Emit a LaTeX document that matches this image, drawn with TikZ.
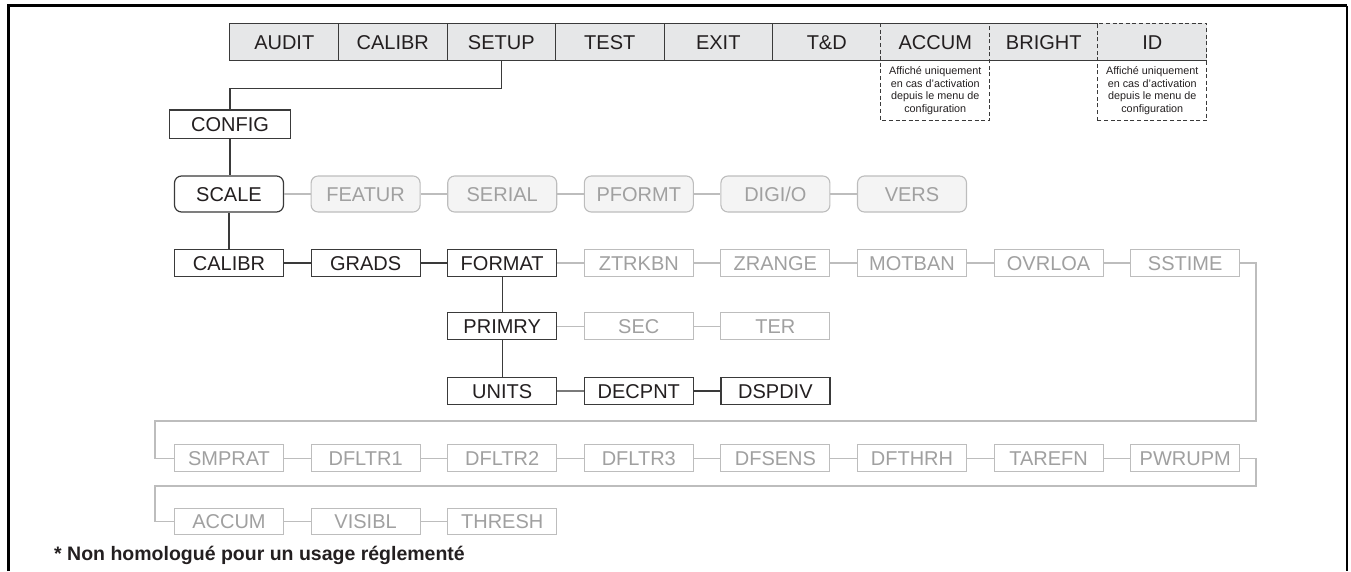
\documentclass[tikz,border=0pt]{standalone}
\usepackage{fontspec}
\setmainfont{Liberation Sans}
\definecolor{barfill}{HTML}{E6E7E8}
\definecolor{dk}{HTML}{3A3A3A}
\definecolor{txt}{HTML}{231F20}
\definecolor{lt}{HTML}{BDBDBD}
\definecolor{ltxt}{HTML}{A0A0A0}
\definecolor{ltfill}{HTML}{F4F4F4}
\definecolor{mid}{HTML}{7A7A7A}
\tikzset{
  lab/.style={font=\fontsize{20}{24}\selectfont, inner sep=0pt, minimum width=109pt,
    minimum height=27pt, text height=14.4pt, text depth=0pt},
  on/.style={lab, draw=dk, line width=1.2pt, text=txt, fill=white},
  off/.style={lab, draw=lt, line width=1.1pt, text=ltxt, fill=white},
  onr/.style={on, rounded corners=7pt, minimum height=36pt},
  offr/.style={off, rounded corners=7pt, minimum height=36pt, fill=ltfill},
  topbox/.style={font=\fontsize{20}{24}\selectfont, inner sep=0pt, minimum width=108.5pt,
    minimum height=37.4pt, text height=14.4pt, text depth=0pt, fill=barfill, text=txt},
  notebox/.style={font=\fontsize{10.8}{12.6}\selectfont, align=center, inner sep=0pt,
    minimum width=108.5pt, minimum height=59.3pt, text=txt, anchor=north},
  dkc/.style={draw=dk, line width=1.3pt},
  ltc/.style={draw=lt, line width=1.2pt},
  midc/.style={draw=mid, line width=1.2pt},
  dsh/.style={draw=dk, line width=1.1pt, dash pattern=on 4pt off 2.6pt},
}
\begin{document}
\begin{tikzpicture}[x=1pt,y=-1pt]
\useasboundingbox (0,0) rectangle (1351,571);
% frame
\draw[line width=3pt, black] (8.5,571) -- (8.5,5.5) -- (1347,5.5);
\draw[line width=1.3pt, black] (1347,5.5) -- (1347,571);

% top menu bar
\node[topbox] (AUDIT)   at (284.25,42) {AUDIT};
\node[topbox] (CALIBRm) at (392.75,42) {CALIBR};
\node[topbox] (SETUP)   at (501.25,42) {SETUP};
\node[topbox] (TEST)    at (609.75,42) {TEST};
\node[topbox] (EXIT)    at (718.25,42) {EXIT};
\node[topbox] (TD)      at (826.75,42) {T\&D};
\node[topbox] (ACCUMm)  at (935.25,42) {ACCUM};
\node[topbox] (BRIGHT)  at (1043.75,42) {BRIGHT};
\node[topbox] (IDm)     at (1152.25,42) {ID};
\node[notebox] (accnote) at (ACCUMm.south) {Affiché uniquement\\en cas d’activation\\depuis le menu de\\configuration};
\node[notebox] (idnote) at (IDm.south) {Affiché uniquement\\en cas d’activation\\depuis le menu de\\configuration};
\draw[dkc, line width=1.1pt] (AUDIT.south west) -- (AUDIT.north west) -- (BRIGHT.north east);
\draw[dkc, line width=1.1pt] (AUDIT.south west) -- (IDm.south east);
\foreach \n in {AUDIT,CALIBRm,SETUP,TEST,EXIT}
  \draw[dkc, line width=1.1pt] (\n.north east) -- (\n.south east);
\draw[dsh] (ACCUMm.north west) -- (accnote.south west) -- (accnote.south east) -- (ACCUMm.north east);
\draw[dsh] (idnote.south west) -- (IDm.north west) -- (IDm.north east) -- (idnote.south east) -- cycle;

% tree
\node[on, minimum width=120.7pt, minimum height=28.5pt] (CONFIG) at (230,124.2) {CONFIG};

\node[onr]  (SCALE)  at (229,194)   {SCALE};
\node[offr] (FEATUR) at (365.6,194) {FEATUR};
\node[offr] (SERIAL) at (502.2,194) {SERIAL};
\node[offr] (PFORMT) at (638.8,194) {PFORMT};
\node[offr] (DIGIO)  at (775.4,194) {DIGI/O};
\node[offr] (VERS)   at (912,194)   {VERS};

\node[on]  (CALIBR) at (229,263)    {CALIBR};
\node[on]  (GRADS)  at (365.6,263)  {GRADS};
\node[on]  (FORMAT) at (502.2,263)  {FORMAT};
\node[off] (ZTRKBN) at (638.8,263)  {ZTRKBN};
\node[off] (ZRANGE) at (775.4,263)  {ZRANGE};
\node[off] (MOTBAN) at (912,263)    {MOTBAN};
\node[off] (OVRLOA) at (1048.6,263) {OVRLOA};
\node[off] (SSTIME) at (1185.2,263) {SSTIME};

\node[on]  (PRIMRY) at (502.2,326.3) {PRIMRY};
\node[off] (SEC)    at (638.8,326.3) {SEC};
\node[off] (TER)    at (775.4,326.3) {TER};

\node[on] (UNITS)  at (502.2,391) {UNITS};
\node[on] (DECPNT) at (638.8,391) {DECPNT};
\node[on] (DSPDIV) at (775.4,391) {DSPDIV};

\node[off] (SMPRAT) at (229,458.3)    {SMPRAT};
\node[off] (DFLTRa) at (365.6,458.3)  {DFLTR1};
\node[off] (DFLTRb) at (502.2,458.3)  {DFLTR2};
\node[off] (DFLTRc) at (638.8,458.3)  {DFLTR3};
\node[off] (DFSENS) at (775.4,458.3)  {DFSENS};
\node[off] (DFTHRH) at (912,458.3)    {DFTHRH};
\node[off] (TAREFN) at (1048.6,458.3) {TAREFN};
\node[off] (PWRUPM) at (1185.2,458.3) {PWRUPM};

\node[off, minimum height=26pt] (ACCUMb) at (229,521.5)   {ACCUM};
\node[off, minimum height=26pt] (VISIBL) at (365.6,521.5) {VISIBL};
\node[off, minimum height=26pt] (THRESH) at (502.2,521.5) {THRESH};

\coordinate (j)  at (0,88.3);
\coordinate (r1) at (1256,421);
\coordinate (l1) at (155,421);
\coordinate (r2) at (1256,486);
\coordinate (l2) at (155,486);

\draw[dkc] (SETUP.south) -- (SETUP.south |- j) -| (CONFIG.north);
\draw[dkc] (CONFIG) -- (CONFIG |- SCALE.north);
\draw[dkc] (SCALE) -- (CALIBR);
\draw[ltc] (SCALE) -- (FEATUR);
\draw[ltc] (FEATUR) -- (SERIAL);
\draw[ltc] (SERIAL) -- (PFORMT);
\draw[ltc] (PFORMT) -- (DIGIO);
\draw[ltc] (DIGIO) -- (VERS);
\draw[dkc] (CALIBR) -- (GRADS);
\draw[dkc] (GRADS) -- (FORMAT);
\draw[ltc] (FORMAT) -- (ZTRKBN);
\draw[ltc] (ZTRKBN) -- (ZRANGE);
\draw[ltc] (ZRANGE) -- (MOTBAN);
\draw[ltc] (MOTBAN) -- (OVRLOA);
\draw[ltc] (OVRLOA) -- (SSTIME);
\draw[dkc] (FORMAT) -- (PRIMRY);
\draw[ltc] (PRIMRY) -- (SEC);
\draw[ltc] (SEC) -- (TER);
\draw[dkc] (PRIMRY) -- (UNITS);
\draw[midc] (UNITS) -- (DECPNT);
\draw[dkc] (DECPNT) -- (DSPDIV);
\draw[ltc] (SSTIME.east) -| (r1) -- (l1) |- (SMPRAT.west);
\draw[ltc] (SMPRAT) -- (DFLTRa);
\draw[ltc] (DFLTRa) -- (DFLTRb);
\draw[ltc] (DFLTRb) -- (DFLTRc);
\draw[ltc] (DFLTRc) -- (DFSENS);
\draw[ltc] (DFSENS) -- (DFTHRH);
\draw[ltc] (DFTHRH) -- (TAREFN);
\draw[ltc] (TAREFN) -- (PWRUPM);
\draw[ltc] (PWRUPM.east) -| (r2) -- (l2) |- (ACCUMb.west);
\draw[ltc] (ACCUMb) -- (VISIBL);
\draw[ltc] (VISIBL) -- (THRESH);

% footnote
\node[anchor=base west, inner sep=0pt, font=\bfseries\fontsize{19.5}{22}\selectfont, text=txt] (foot) at (54,560) {* Non homologué pour un usage réglementé};
\end{tikzpicture}
\end{document}
